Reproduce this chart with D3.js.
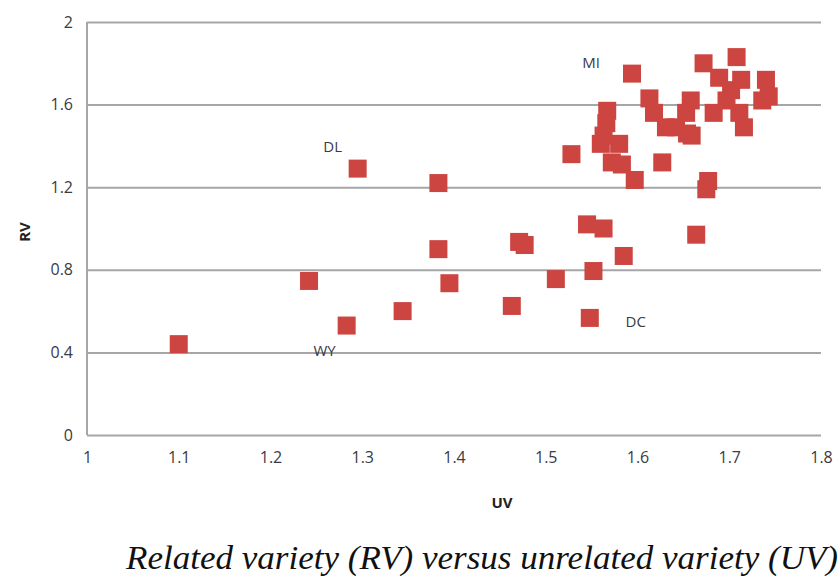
<!DOCTYPE html>
<html>
<head>
<meta charset="utf-8">
<script src="https://cdn.jsdelivr.net/npm/d3@7/dist/d3.min.js"></script>
<style>
  body { margin: 0; background: #fff; }
  svg { display: block; }
</style>
</head>
<body>
<div id="chart"></div>
<script>
// UV (x) and RV (y) values, one per region
var uv = [1.10, 1.242, 1.283, 1.295, 1.344, 1.383, 1.383, 1.395, 1.463, 1.471,
  1.477, 1.511, 1.528, 1.545, 1.548, 1.552, 1.563, 1.585, 1.664, 1.677,
  1.675, 1.56, 1.563, 1.566, 1.567, 1.58, 1.572, 1.583, 1.597, 1.594,
  1.627, 1.613, 1.618, 1.631, 1.642, 1.654, 1.658, 1.653, 1.659, 1.672,
  1.708, 1.683, 1.689, 1.702, 1.713, 1.711, 1.716, 1.74, 1.743, 1.736, 1.697];
var rv = [0.44, 0.746, 0.53, 1.29, 0.60, 1.22, 0.90, 0.735, 0.625, 0.935,
  0.92, 0.755, 1.36, 1.02, 0.567, 0.794, 1.00, 0.867, 0.97, 1.23,
  1.19, 1.41, 1.45, 1.51, 1.57, 1.41, 1.32, 1.31, 1.235, 1.75,
  1.32, 1.63, 1.56, 1.49, 1.49, 1.46, 1.62, 1.56, 1.45, 1.80,
  1.83, 1.56, 1.73, 1.67, 1.72, 1.56, 1.49, 1.72, 1.64, 1.62, 1.62];

// labelled points (index into the arrays above)
var labelNames = ["DL", "WY", "DC", "MI"];
var labelIndex = [3, 2, 14, 29];

var xTicks = [1, 1.1, 1.2, 1.3, 1.4, 1.5, 1.6, 1.7, 1.8];
var yTicks = [0, 0.4, 0.8, 1.2, 1.6, 2];

var width = 839, height = 579;
var plotL = 87, plotR = 821, plotT = 22, plotB = 435;

var svg = d3.select("#chart").append("svg")
  .attr("width", width)
  .attr("height", height);

var x = d3.scaleLinear().domain([1, 1.8]).range([plotL, plotR]);
var y = d3.scaleLinear().domain([0, 2]).range([plotB, plotT]);

// horizontal gridlines + y labels
svg.append("g")
  .attr("transform", "translate(" + plotL + ",0)")
  .call(d3.axisLeft(y).tickValues(yTicks).tickSize(-(plotR - plotL)).tickFormat(d3.format("")))
  .call(g => g.select(".domain").remove())
  .call(g => g.selectAll("line").attr("stroke", "#a6a6a6").attr("stroke-width", 2))
  .call(g => g.selectAll("text")
    .attr("x", -14)
    .attr("fill", "#3a3a44")
    .attr("font-family", "'Open Sans', sans-serif")
    .attr("font-size", 16));

// left axis line
svg.append("line")
  .attr("x1", plotL).attr("x2", plotL)
  .attr("y1", plotT).attr("y2", plotB)
  .attr("stroke", "#a6a6a6").attr("stroke-width", 2);

// x axis labels
svg.append("g")
  .attr("transform", "translate(0," + plotB + ")")
  .call(d3.axisBottom(x).tickValues(xTicks).tickSize(0).tickFormat(d3.format("")))
  .call(g => g.select(".domain").remove())
  .call(g => g.selectAll("text")
    .attr("y", 17)
    .attr("fill", "#3a3a44")
    .attr("font-family", "'Open Sans', sans-serif")
    .attr("font-size", 16));

// square markers
var sz = 18;
svg.append("g").selectAll("rect")
  .data(uv)
  .enter()
  .append("rect")
  .attr("x", (d) => x(d) - sz / 2)
  .attr("y", (d, i) => y(rv[i]) - sz / 2)
  .attr("width", sz)
  .attr("height", sz)
  .attr("fill", "#cc4541");

// point labels
var offsets = { DL: [-25, -21], WY: [-22, 26], DC: [46, 5], MI: [-41, -10] };
svg.append("g").selectAll("text")
  .data(labelNames)
  .enter()
  .append("text")
  .attr("x", (d, i) => x(uv[labelIndex[i]]) + offsets[d][0])
  .attr("y", (d, i) => y(rv[labelIndex[i]]) + offsets[d][1])
  .attr("text-anchor", "middle")
  .attr("dominant-baseline", "middle")
  .attr("fill", "#3a3a44")
  .attr("font-family", "'Open Sans', sans-serif")
  .attr("font-size", 15)
  .text((d) => d);

// axis titles
svg.append("text")
  .attr("transform", "translate(30,232) rotate(-90)")
  .attr("text-anchor", "middle")
  .attr("font-family", "'Open Sans', sans-serif")
  .attr("font-weight", "bold")
  .attr("font-size", 15)
  .attr("fill", "#222")
  .text("RV");

svg.append("text")
  .attr("x", 502).attr("y", 508)
  .attr("text-anchor", "middle")
  .attr("font-family", "'Open Sans', sans-serif")
  .attr("font-weight", "bold")
  .attr("font-size", 15)
  .attr("fill", "#222")
  .text("UV");

// caption
svg.append("text")
  .attr("x", 126).attr("y", 569)
  .attr("font-family", "'Liberation Serif', 'Times New Roman', serif")
  .attr("font-style", "italic")
  .attr("font-size", 34)
  .attr("fill", "#111")
  .attr("textLength", 712)
  .attr("lengthAdjust", "spacingAndGlyphs")
  .text("Related variety (RV) versus unrelated variety (UV)");
</script>
</body>
</html>
